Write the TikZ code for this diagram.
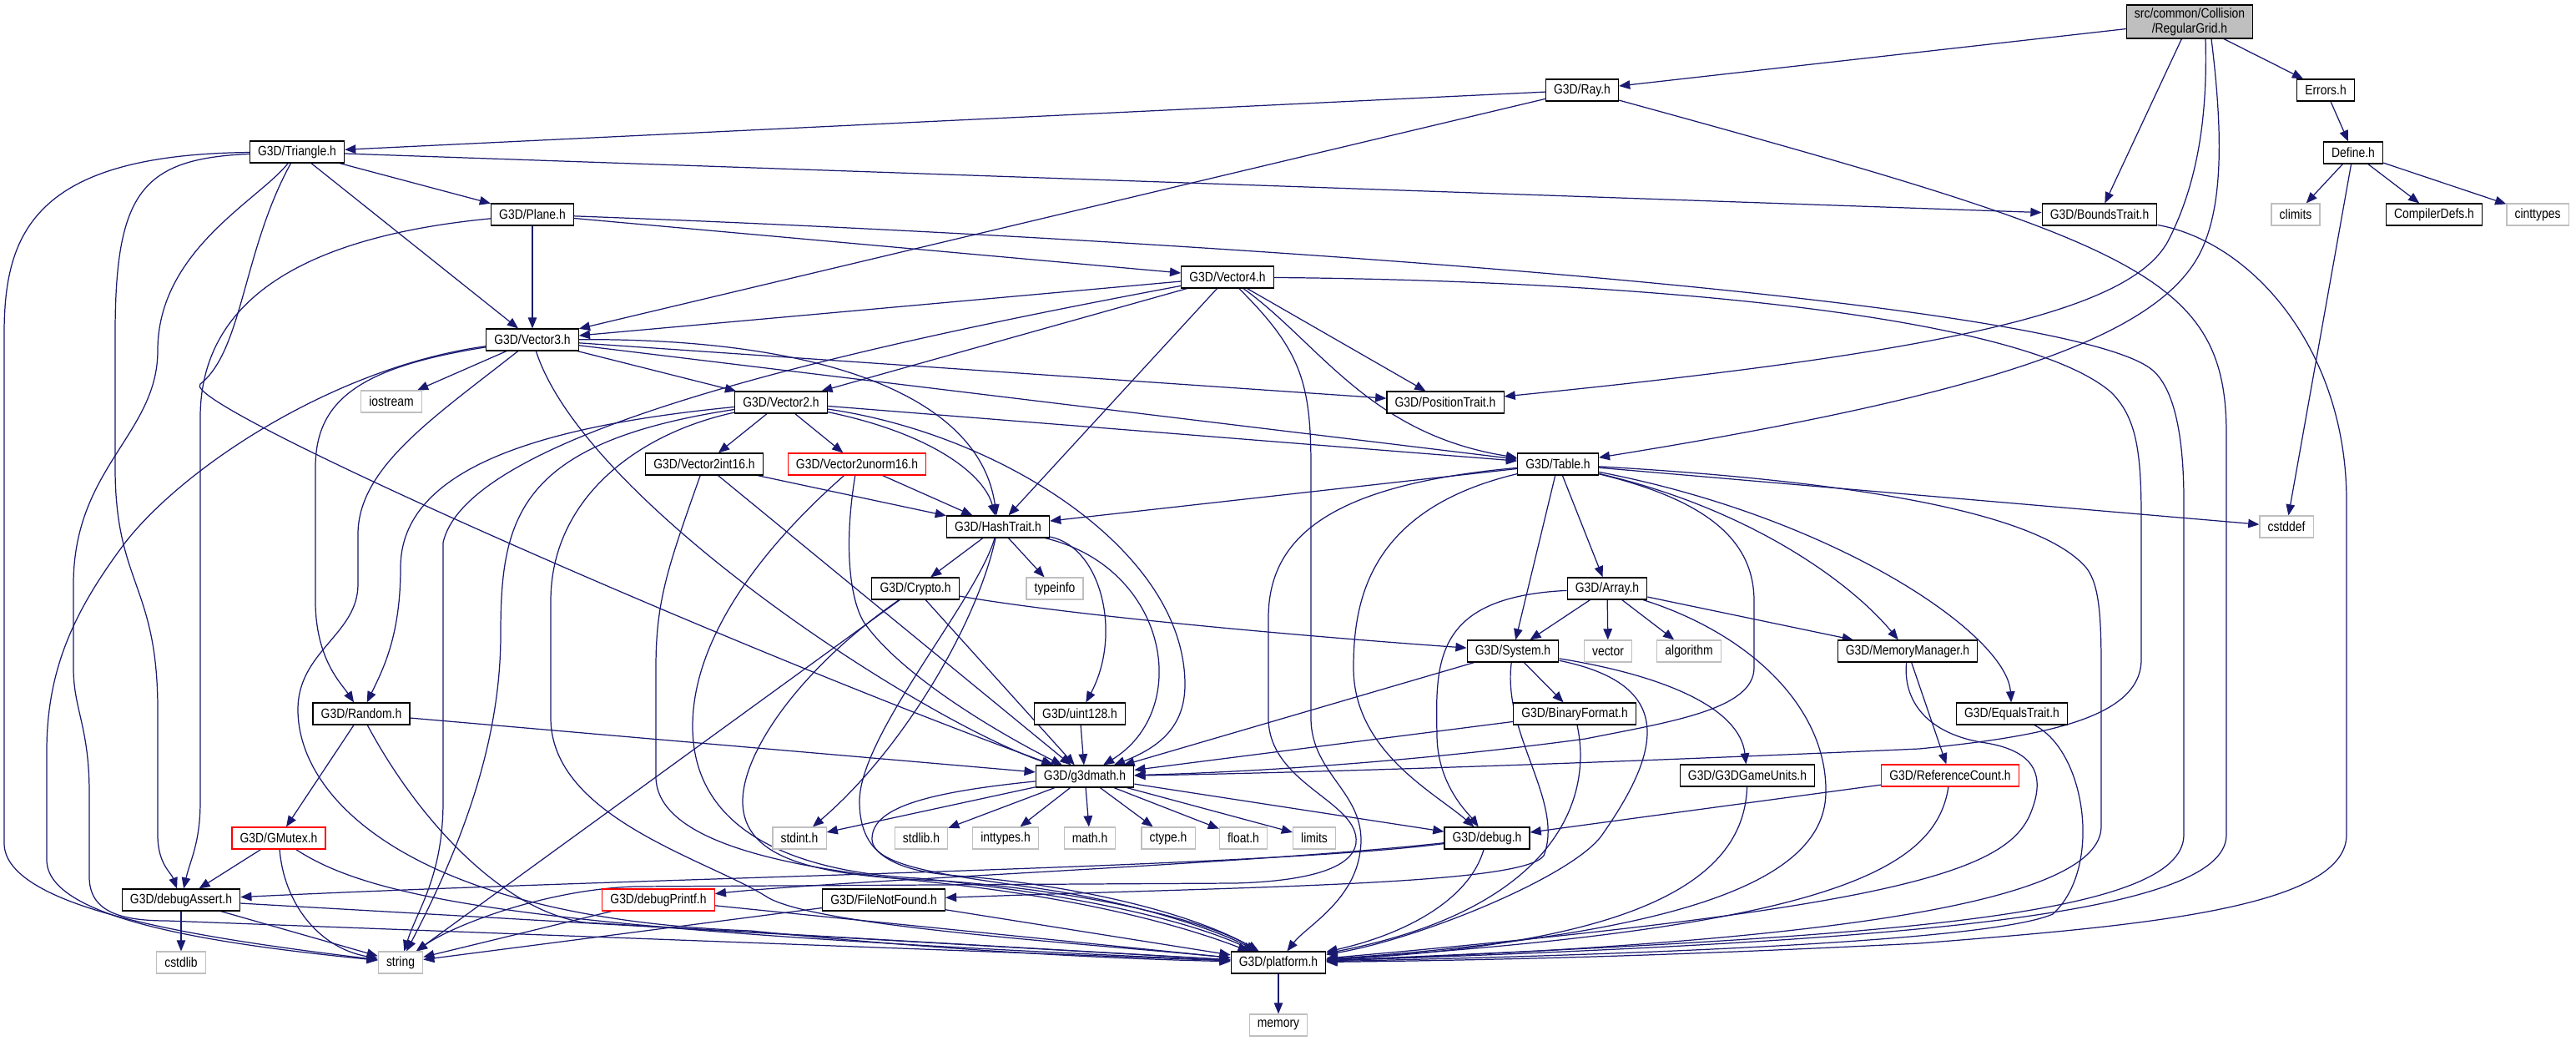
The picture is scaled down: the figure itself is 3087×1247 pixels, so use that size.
\documentclass[tikz,border=0pt]{standalone}
\usepackage{fontspec}
\usepackage{tikz}
\usetikzlibrary{arrows.meta, backgrounds}
\newfontfamily\hdrfont{Liberation Sans}[FakeStretch=0.86]
\definecolor{edgeblue}{RGB}{25,25,112}
\definecolor{sysgrey}{RGB}{191,191,191}

\begin{document}
\begin{tikzpicture}[
  x=0.02cm, y=0.02cm,
  header/.style={draw=black, fill=white, line width=0.65pt, minimum height=0.52cm, inner xsep=5.5pt, inner ysep=0pt, font=\hdrfont\fontsize{9.2pt}{10.4pt}\selectfont},
  syshdr/.style={header, draw=sysgrey},
  redhdr/.style={header, draw=red},
  roothdr/.style={header, fill=sysgrey, minimum height=0.8cm, align=center},
  inc/.style={-{Triangle[length=7.5pt, width=6pt]}, draw=edgeblue, line width=0.7pt},
]
\useasboundingbox (0,0) rectangle (3087,-1247);

% Headers
\node[roothdr] (root) at (2624,-26) {src/common/Collision\\/RegularGrid.h};
\node[header] (ray) at (1896,-108) {G3D/Ray.h};
\node[header] (errors) at (2787,-108) {Errors.h};
\node[header] (triangle) at (356,-182) {G3D/Triangle.h};
\node[header] (define) at (2820,-183) {Define.h};
\node[header] (plane) at (638,-257) {G3D/Plane.h};
\node[header] (boundstrait) at (2516,-257) {G3D/BoundsTrait.h};
\node[syshdr] (climits) at (2751,-257) {climits};
\node[header] (compilerdefs) at (2917,-257) {CompilerDefs.h};
\node[syshdr] (cinttypes) at (3041,-257) {cinttypes};
\node[header] (vector4) at (1471,-332) {G3D/Vector4.h};
\node[header] (vector3) at (638,-407) {G3D/Vector3.h};
\node[syshdr] (iostream) at (469,-481) {iostream};
\node[header] (vector2) at (936,-482) {G3D/Vector2.h};
\node[header] (positiontrait) at (1732,-482) {G3D/PositionTrait.h};
\node[header] (vector2int16) at (844,-556) {G3D/Vector2int16.h};
\node[redhdr] (vector2unorm16) at (1027,-556) {G3D/Vector2unorm16.h};
\node[header] (table) at (1867,-556) {G3D/Table.h};
\node[header] (hashtrait) at (1196,-631) {G3D/HashTrait.h};
\node[syshdr] (cstddef) at (2740,-631) {cstddef};
\node[header] (crypto) at (1097,-705) {G3D/Crypto.h};
\node[syshdr] (typeinfo) at (1264,-705) {typeinfo};
\node[header] (array) at (1926,-705) {G3D/Array.h};
\node[header] (system) at (1813,-780) {G3D/System.h};
\node[syshdr] (vector) at (1927,-780) {vector};
\node[syshdr] (algorithm) at (2024,-780) {algorithm};
\node[header] (memorymanager) at (2286,-780) {G3D/MemoryManager.h};
\node[header] (random) at (433,-855) {G3D/Random.h};
\node[header] (uint128) at (1294,-855) {G3D/uint128.h};
\node[header] (binaryformat) at (1887,-855) {G3D/BinaryFormat.h};
\node[header] (equalstrait) at (2411,-855) {G3D/EqualsTrait.h};
\node[header] (g3dmath) at (1300,-930) {G3D/g3dmath.h};
\node[header] (gameunits) at (2094,-929) {G3D/G3DGameUnits.h};
\node[redhdr] (referencecount) at (2337,-929) {G3D/ReferenceCount.h};
\node[redhdr] (gmutex) at (334,-1004) {G3D/GMutex.h};
\node[syshdr] (stdint) at (958,-1004) {stdint.h};
\node[syshdr] (stdlib) at (1104,-1004) {stdlib.h};
\node[syshdr] (inttypes) at (1205,-1004) {inttypes.h};
\node[syshdr] (math) at (1306,-1004) {math.h};
\node[syshdr] (ctype) at (1400,-1004) {ctype.h};
\node[syshdr] (float) at (1490,-1004) {float.h};
\node[syshdr] (limits) at (1575,-1004) {limits};
\node[header] (debug) at (1782,-1004) {G3D/debug.h};
\node[header] (debugassert) at (217,-1078) {G3D/debugAssert.h};
\node[redhdr] (debugprintf) at (789,-1078) {G3D/debugPrintf.h};
\node[header] (filenotfound) at (1059,-1078) {G3D/FileNotFound.h};
\node[syshdr] (cstdlib) at (217,-1153) {cstdlib};
\node[syshdr] (string) at (480,-1153) {string};
\node[header] (platform) at (1532,-1153) {G3D/platform.h};
\node[syshdr] (memory) at (1532,-1228) {memory};

% Includes
\begin{scope}[on background layer]
\fill[white] (0,0) rectangle (3087,-1247);

% RegularGrid.h
\draw[inc] (root) -- (ray);
\draw[inc] (root) -- (errors);
\draw[inc] (root) -- (boundstrait);
\draw[inc] ([xshift=0.38cm]root.south) .. controls (2646,-150) and (2630,-225) .. (2600,-285) .. controls (2560,-370) and (2350,-420) .. (positiontrait);
\draw[inc] ([xshift=0.52cm]root.south) .. controls (2664,-160) and (2664,-245) .. (2638,-300) .. controls (2590,-400) and (2400,-470) .. (table);

% Errors.h, Define.h
\draw[inc] (errors) -- (define);
\foreach \t in {climits, compilerdefs, cinttypes, cstddef}
  \draw[inc] (define) -- (\t);

% Ray.h
\draw[inc] (ray) -- (triangle);
\draw[inc] (ray) -- (vector3);
\draw[inc] (ray) .. controls (2560,-290) and (2668,-330) .. (2668,-520) -- (2668,-1000) .. controls (2668,-1100) and (2250,-1128) .. (platform);

% Triangle.h
\draw[inc] (triangle) -- (plane);
\draw[inc] (triangle) -- (vector3);
\draw[inc] (triangle) -- (boundstrait);
\draw[inc] (triangle) .. controls (291,-300) and (291,-420) .. (240,-460) .. controls (210,-484) and (900,-785) .. (g3dmath);
\draw[inc] (triangle) .. controls (170,-190) and (138,-230) .. (138,-400) -- (138,-560) .. controls (138,-700) and (189,-700) .. (189,-850) -- (189,-1000) .. controls (189,-1035) and (205,-1045) .. (debugassert);
\draw[inc] (triangle) .. controls (40,-185) and (5,-280) .. (5,-400) -- (5,-1010) .. controls (5,-1090) and (250,-1125) .. (string);
\draw[inc] (triangle) .. controls (310,-240) and (189,-300) .. (189,-420) .. controls (189,-520) and (88,-560) .. (88,-700) -- (88,-800) .. controls (88,-850) and (107,-870) .. (107,-950) -- (107,-1050) .. controls (107,-1090) and (140,-1103) .. (200,-1103) -- (platform);

% Plane.h
\draw[inc] (plane) -- (vector3);
\draw[inc] (plane) -- (vector4);
\draw[inc] (plane) .. controls (400,-280) and (240,-340) .. (240,-500) -- (240,-960) .. controls (240,-1010) and (228,-1030) .. (debugassert);
\draw[inc] (plane) .. controls (1400,-285) and (2450,-355) .. (2575,-440) .. controls (2605,-460) and (2617,-520) .. (2617,-600) -- (2617,-1000) .. controls (2617,-1100) and (2250,-1122) .. (platform);

% Vector4.h
\draw[inc] (vector4) -- (vector3);
\draw[inc] (vector4) -- (vector2);
\draw[inc] (vector4) -- (hashtrait);
\draw[inc] (vector4) -- (positiontrait);
\draw[inc] (vector4) .. controls (1580,-410) and (1640,-520) .. (table);
\draw[inc] (vector4) .. controls (1560,-420) and (1571,-460) .. (1571,-560) -- (1571,-860) .. controls (1571,-930) and (1640,-950) .. (1630,-1020) .. controls (1622,-1080) and (1565,-1110) .. (platform);
\draw[inc] (vector4) .. controls (1950,-336) and (2420,-375) .. (2530,-470) .. controls (2560,-500) and (2566,-540) .. (2566,-620) -- (2566,-790) .. controls (2566,-860) and (2450,-882) .. (2300,-897) .. controls (1900,-915) and (1550,-926) .. (g3dmath);
\draw[inc] (vector4) .. controls (1000,-420) and (560,-520) .. (531,-650) -- (531,-960) .. controls (531,-1050) and (500,-1090) .. (string);

% Vector3.h
\draw[inc] (vector3) -- (iostream);
\draw[inc] (vector3) -- (vector2);
\draw[inc] (vector3) .. controls (1000,-405) and (1175,-480) .. (hashtrait);
\draw[inc] (vector3) -- (table);
\draw[inc] (vector3) -- (positiontrait);
\draw[inc] (vector3) .. controls (700,-600) and (1100,-860) .. (g3dmath);
\draw[inc] (vector3) .. controls (430,-440) and (378,-480) .. (378,-560) -- (378,-720) .. controls (378,-790) and (410,-820) .. (random);
\draw[inc] (vector3) .. controls (400,-440) and (220,-560) .. (150,-650) .. controls (90,-730) and (56,-800) .. (56,-900) -- (56,-1030) .. controls (56,-1100) and (250,-1130) .. (string);
\draw[inc] (vector3) .. controls (520,-500) and (429,-560) .. (429,-640) -- (429,-700) .. controls (429,-760) and (357,-780) .. (357,-850) .. controls (357,-960) and (500,-1100) .. (900,-1115) .. controls (1200,-1145) and (1400,-1150) .. (platform);

% Vector2.h
\draw[inc] (vector2) -- (vector2int16);
\draw[inc] (vector2) -- (vector2unorm16);
\draw[inc] (vector2) .. controls (1120,-520) and (1180,-570) .. (hashtrait);
\draw[inc] (vector2) -- (table);
\draw[inc] (vector2) .. controls (1200,-520) and (1420,-660) .. (1420,-820) .. controls (1420,-870) and (1390,-895) .. (g3dmath);
\draw[inc] (vector2) .. controls (650,-510) and (480,-560) .. (480,-680) .. controls (480,-760) and (460,-800) .. (random);
\draw[inc] (vector2) .. controls (620,-530) and (600,-620) .. (600,-760) .. controls (600,-880) and (560,-1000) .. (string);
\draw[inc] (vector2) .. controls (760,-520) and (660,-600) .. (660,-720) -- (660,-860) .. controls (660,-980) and (850,-1030) .. (920,-1075) .. controls (980,-1110) and (1300,-1130) .. (platform);

% Vector2int16.h, Vector2unorm16.h
\draw[inc] (vector2int16) -- (hashtrait);
\draw[inc] (vector2int16) -- (g3dmath);
\draw[inc] (vector2int16) .. controls (800,-680) and (786,-720) .. (786,-800) -- (786,-930) .. controls (786,-1010) and (950,-1040) .. (1100,-1055) .. controls (1300,-1075) and (1420,-1110) .. (platform);
\draw[inc] (vector2unorm16) -- (hashtrait);
\draw[inc] (vector2unorm16) .. controls (1010,-660) and (1020,-720) .. (1035,-745) .. controls (1080,-810) and (1200,-880) .. (g3dmath);
\draw[inc] (vector2unorm16) .. controls (920,-650) and (830,-760) .. (830,-870) .. controls (830,-1000) and (960,-1045) .. (1100,-1052) .. controls (1300,-1072) and (1430,-1105) .. (platform);

% HashTrait.h
\draw[inc] (hashtrait) -- (crypto);
\draw[inc] (hashtrait) -- (typeinfo);
\draw[inc] (hashtrait) .. controls (1320,-655) and (1345,-760) .. (uint128);
\draw[inc] (hashtrait) .. controls (1400,-680) and (1430,-850) .. (g3dmath);
\draw[inc] (hashtrait) .. controls (1170,-750) and (1080,-900) .. (stdint);
\draw[inc] (hashtrait) .. controls (1170,-720) and (1030,-880) .. (1030,-960) .. controls (1030,-1030) and (1080,-1045) .. (1160,-1050) .. controls (1320,-1065) and (1440,-1100) .. (platform);

% Crypto.h
\draw[inc] (crypto) .. controls (1300,-740) and (1600,-765) .. (system);
\draw[inc] (crypto) -- (g3dmath);
\draw[inc] (crypto) -- (string);
\draw[inc] (crypto) .. controls (960,-800) and (890,-900) .. (890,-960) .. controls (890,-1030) and (980,-1050) .. (1130,-1055) .. controls (1300,-1068) and (1440,-1100) .. (platform);

% Random.h, GMutex.h
\draw[inc] (random) -- (gmutex);
\draw[inc] (random) -- (g3dmath);
\draw[inc] (random) .. controls (500,-980) and (600,-1090) .. (700,-1105) -- (platform);
\draw[inc] (gmutex) -- (debugassert);
\draw[inc] (gmutex) .. controls (340,-1080) and (380,-1135) .. (string);
\draw[inc] (gmutex) .. controls (450,-1080) and (650,-1115) .. (platform);

% debugAssert.h, debugPrintf.h, FileNotFound.h
\draw[inc] (debugassert) -- (cstdlib);
\foreach \s in {debugassert, debugprintf, filenotfound} {
  \draw[inc] (\s) -- (string);
  \draw[inc] (\s) -- (platform);
}

% g3dmath.h
\foreach \t in {stdint, stdlib, inttypes, math, ctype, float, limits, debug}
  \draw[inc] (g3dmath) -- (\t);
\draw[inc] (g3dmath) .. controls (1100,-950) and (1045,-970) .. (1045,-1005) .. controls (1045,-1040) and (1150,-1050) .. (1250,-1065) .. controls (1350,-1080) and (1450,-1110) .. (platform);

% debug.h
\draw[inc] (debug) .. controls (1500,-1040) and (800,-1050) .. (debugassert);
\draw[inc] (debug) .. controls (1500,-1035) and (1000,-1055) .. (debugprintf);
\draw[inc] (debug) .. controls (1760,-1080) and (1680,-1120) .. (platform);

% System.h, BinaryFormat.h
\draw[inc] (system) -- (g3dmath);
\draw[inc] (system) -- (binaryformat);
\draw[inc] (system) .. controls (2000,-810) and (2085,-850) .. (gameunits);
\draw[inc] (system) .. controls (1800,-880) and (1875,-960) .. (1850,-1025) .. controls (1825,-1060) and (1500,-1062) .. (filenotfound);
\draw[inc] (system) .. controls (2010,-820) and (1990,-900) .. (1920,-1000) .. controls (1885,-1050) and (1700,-1125) .. (platform);
\draw[inc] (binaryformat) -- (g3dmath);
\draw[inc] (binaryformat) .. controls (1910,-960) and (1860,-1090) .. (platform);

% Array.h
\draw[inc] (array) -- (system);
\draw[inc] (array) -- (vector);
\draw[inc] (array) -- (algorithm);
\draw[inc] (array) -- (memorymanager);
\draw[inc] (array) .. controls (1720,-715) and (1720,-790) .. (1722,-880) .. controls (1722,-940) and (1760,-975) .. (debug);
\draw[inc] (array) .. controls (2100,-760) and (2190,-850) .. (2188,-950) .. controls (2186,-1060) and (2000,-1120) .. (platform);

% Table.h
\draw[inc] (table) -- (hashtrait);
\draw[inc] (table) -- (system);
\draw[inc] (table) -- (array);
\draw[inc] (table) -- (cstddef);
\draw[inc] (table) .. controls (2100,-610) and (2220,-700) .. (memorymanager);
\draw[inc] (table) .. controls (2200,-620) and (2405,-760) .. (equalstrait);
\draw[inc] (table) .. controls (1640,-610) and (1622,-720) .. (1622,-800) .. controls (1622,-900) and (1720,-950) .. (debug);
\draw[inc] (table) .. controls (1600,-580) and (1520,-640) .. (1520,-740) -- (1520,-860) .. controls (1520,-940) and (1630,-960) .. (1625,-1010) .. controls (1620,-1045) and (1550,-1056) .. (1480,-1058) -- (760,-1062) .. controls (650,-1066) and (540,-1110) .. (string);
\draw[inc] (table) .. controls (2050,-600) and (2102,-650) .. (2102,-720) -- (2102,-800) .. controls (2102,-850) and (2000,-865) .. (1900,-885) .. controls (1700,-912) and (1500,-925) .. (g3dmath);
\draw[inc] (table) .. controls (2200,-575) and (2440,-610) .. (2500,-680) .. controls (2516,-700) and (2518,-740) .. (2518,-800) -- (2518,-990) .. controls (2518,-1080) and (2200,-1128) .. (platform);

% MemoryManager.h, EqualsTrait.h, ReferenceCount.h, G3DGameUnits.h
\draw[inc] (memorymanager) -- (referencecount);
\draw[inc] (memorymanager) .. controls (2280,-840) and (2310,-880) .. (2380,-890) .. controls (2440,-900) and (2450,-930) .. (2435,-970) .. controls (2410,-1040) and (2300,-1085) .. (platform);
\draw[inc] (equalstrait) .. controls (2500,-900) and (2520,-1040) .. (2460,-1095) .. controls (2380,-1130) and (1900,-1145) .. (platform);
\draw[inc] (referencecount) -- (debug);
\draw[inc] (referencecount) .. controls (2320,-1040) and (2200,-1110) .. (platform);
\draw[inc] (gameunits) .. controls (2090,-1060) and (1950,-1130) .. (platform);

% uint128.h, BoundsTrait.h, platform.h
\draw[inc] (uint128) -- (g3dmath);
\draw[inc] (boundstrait) .. controls (2700,-290) and (2812,-420) .. (2812,-600) -- (2812,-1000) .. controls (2812,-1090) and (2550,-1110) .. (2300,-1130) .. controls (2000,-1145) and (1800,-1150) .. (platform);
\draw[inc] (platform) -- (memory);
\end{scope}

\end{tikzpicture}
\end{document}
